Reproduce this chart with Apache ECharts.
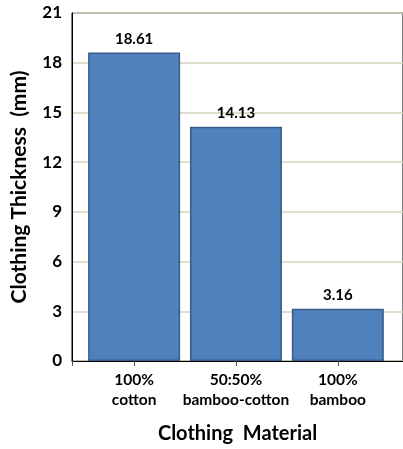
<!DOCTYPE html>
<html>
<head>
<meta charset="utf-8">
<script src="https://cdn.jsdelivr.net/npm/echarts@6/dist/echarts.min.js"></script>
<style>
  html, body { margin: 0; padding: 0; background: #fff; }
  #chart { width: 403px; height: 449px; }
</style>
</head>
<body>
<div id="chart"></div>
<script>
// Clothing thickness by material
const categories = ['100%\ncotton', '50:50%\nbamboo-cotton', '100%\nbamboo'];
const thickness = [18.61, 14.13, 3.16];
const yTicks = [0, 3, 6, 9, 12, 15, 18, 21];

const FONT = 'Lato';
const X_MIN = -0.61;
const chart = echarts.init(document.getElementById('chart'));

chart.setOption({
  animation: false,
  textStyle: { fontFamily: FONT },
  grid: {
    left: 72, right: 0, top: 13, bottom: 86,
    show: true, borderColor: '#000', borderWidth: 1, backgroundColor: 'transparent'
  },
  xAxis: {
    type: 'value',
    min: X_MIN,
    max: 2.64,
    name: 'Clothing  Material',
    nameLocation: 'middle',
    nameGap: 63,
    nameTextStyle: { fontFamily: FONT, fontSize: 20, fontWeight: 'bold', color: '#000' },
    splitLine: { show: false },
    axisLine: { show: true, onZero: false, lineStyle: { color: '#000', width: 1 } },
    axisTick: { show: true, customValues: [X_MIN, 0, 1, 2], length: 5, lineStyle: { color: '#555' } },
    axisLabel: {
      customValues: [0, 1, 2],
      formatter: v => categories[Math.round(v)] || '',
      fontFamily: FONT, fontSize: 15.5, fontWeight: 'bold', color: '#000',
      lineHeight: 20, margin: 9
    }
  },
  yAxis: {
    type: 'value',
    min: yTicks[0],
    max: yTicks[yTicks.length - 1],
    interval: 3,
    name: 'Clothing Thickness  (mm)',
    nameLocation: 'middle',
    nameGap: 42,
    nameTextStyle: { fontFamily: FONT, fontSize: 21, fontWeight: 'bold', color: '#000' },
    axisLine: { show: true, onZero: false, lineStyle: { color: '#000', width: 1 } },
    axisTick: { show: false },
    axisLabel: { fontFamily: FONT, fontSize: 17, fontWeight: 'bold', color: '#000', margin: 10 },
    splitLine: { show: true, lineStyle: { color: '#d8d2b8', width: 1.5 } }
  },
  series: [{
    type: 'bar',
    data: thickness.map((v, i) => [i, v]),
    barWidth: 92,
    itemStyle: { color: '#4f81bd', borderColor: '#385d8a', borderWidth: 1.5 },
    label: {
      show: true,
      position: 'top',
      distance: 6,
      formatter: p => p.value[1].toFixed(2),
      fontFamily: FONT, fontSize: 15, fontWeight: 'bold', color: '#000'
    }
  }]
});
</script>
</body>
</html>
